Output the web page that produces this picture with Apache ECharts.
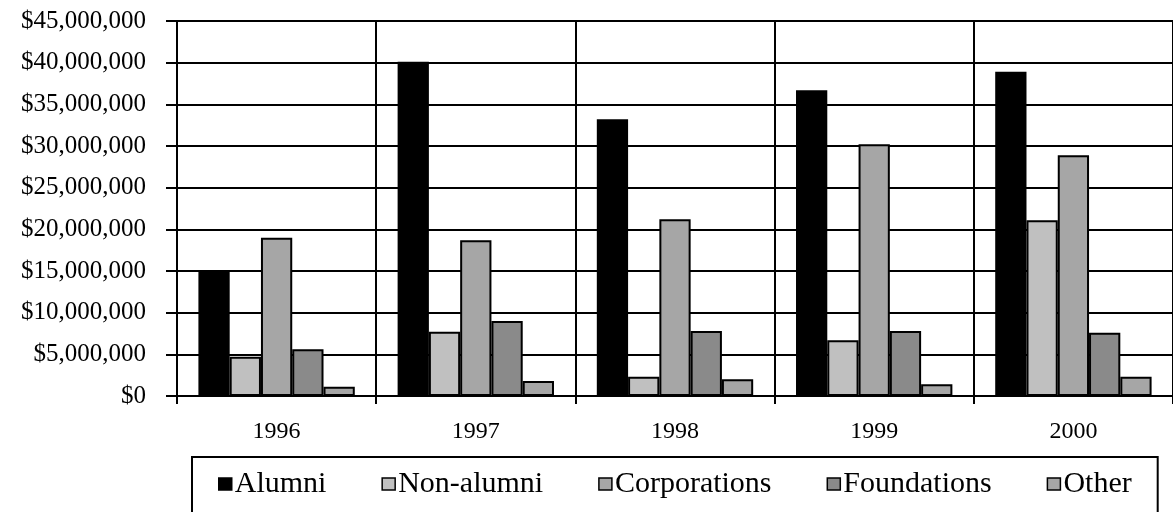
<!DOCTYPE html>
<html>
<head>
<meta charset="utf-8">
<script src="https://cdn.jsdelivr.net/npm/echarts@6/dist/echarts.min.js"></script>
<style>
    html, body { margin: 0; padding: 0; background: #fff; }
    #chart { width: 1173px; height: 512px; }
</style>
</head>
<body>
<div id="chart"></div>
<script>
// data
const years = ['1996', '1997', '1998', '1999', '2000'];
const alumni = [15000000, 40100000, 33200000, 36700000, 38900000];
const nonAlumni = [4700000, 7700000, 2300000, 6700000, 21100000];
const corporations = [19000000, 18700000, 21200000, 30200000, 28900000];
const foundations = [5600000, 9000000, 7800000, 7800000, 7600000];
const other = [1100000, 1800000, 2000000, 1400000, 2300000];

const seriesNames = ['Alumni', 'Non-alumni', 'Corporations', 'Foundations', 'Other'];
const seriesData = [alumni, nonAlumni, corporations, foundations, other];
const seriesColors = ['#000000', '#c0c0c0', '#a6a6a6', '#8a8a8a', '#a6a6a6'];

const font = '"Liberation Serif", "Times New Roman", serif';
const black = { color: '#000', width: 2 };

const chart = echarts.init(document.getElementById('chart'));

const option = {
    animation: false,
    backgroundColor: '#fff',
    textStyle: { fontFamily: font, color: '#000' },
    grid: {
        left: 177,
        top: 21,
        width: 1003,
        height: 375
    },
    legend: {
        data: seriesNames,
        left: 192,
        top: 457,
        orient: 'horizontal',
        icon: 'rect',
        itemWidth: 13,
        itemHeight: 12,
        itemGap: 55,
        padding: [11, 26, 40, 26],
        borderColor: '#000',
        borderWidth: 2,
        itemStyle: { borderColor: '#000', borderWidth: 1.5 },
        textStyle: {
            fontFamily: font,
            fontSize: 30,
            lineHeight: 32,
            color: '#000',
            padding: [0, 0, 0, -2]
        }
    },
    xAxis: {
        type: 'category',
        data: years,
        boundaryGap: true,
        axisLine: { lineStyle: black },
        axisTick: { show: true, length: 8, lineStyle: black },
        splitLine: { show: true, lineStyle: black },
        axisLabel: {
            fontFamily: font,
            fontSize: 24,
            color: '#000',
            margin: 24
        }
    },
    yAxis: {
        type: 'value',
        min: 0,
        max: 45000000,
        interval: 5000000,
        axisLine: { show: true, lineStyle: black },
        axisTick: { show: true, length: 11, lineStyle: black },
        splitLine: { show: true, lineStyle: black },
        axisLabel: {
            fontFamily: font,
            fontSize: 25,
            color: '#000',
            margin: 31,
            formatter: function (v) {
                return '$' + v.toLocaleString('en-US');
            }
        }
    },
    series: seriesNames.map(function (name, i) {
        return {
            name: name,
            type: 'bar',
            data: seriesData[i],
            barGap: 0,
            barCategoryGap: '21.5%',
            itemStyle: {
                color: seriesColors[i],
                borderColor: '#000',
                borderWidth: 2
            }
        };
    })
};

chart.setOption(option);
</script>
</body>
</html>
